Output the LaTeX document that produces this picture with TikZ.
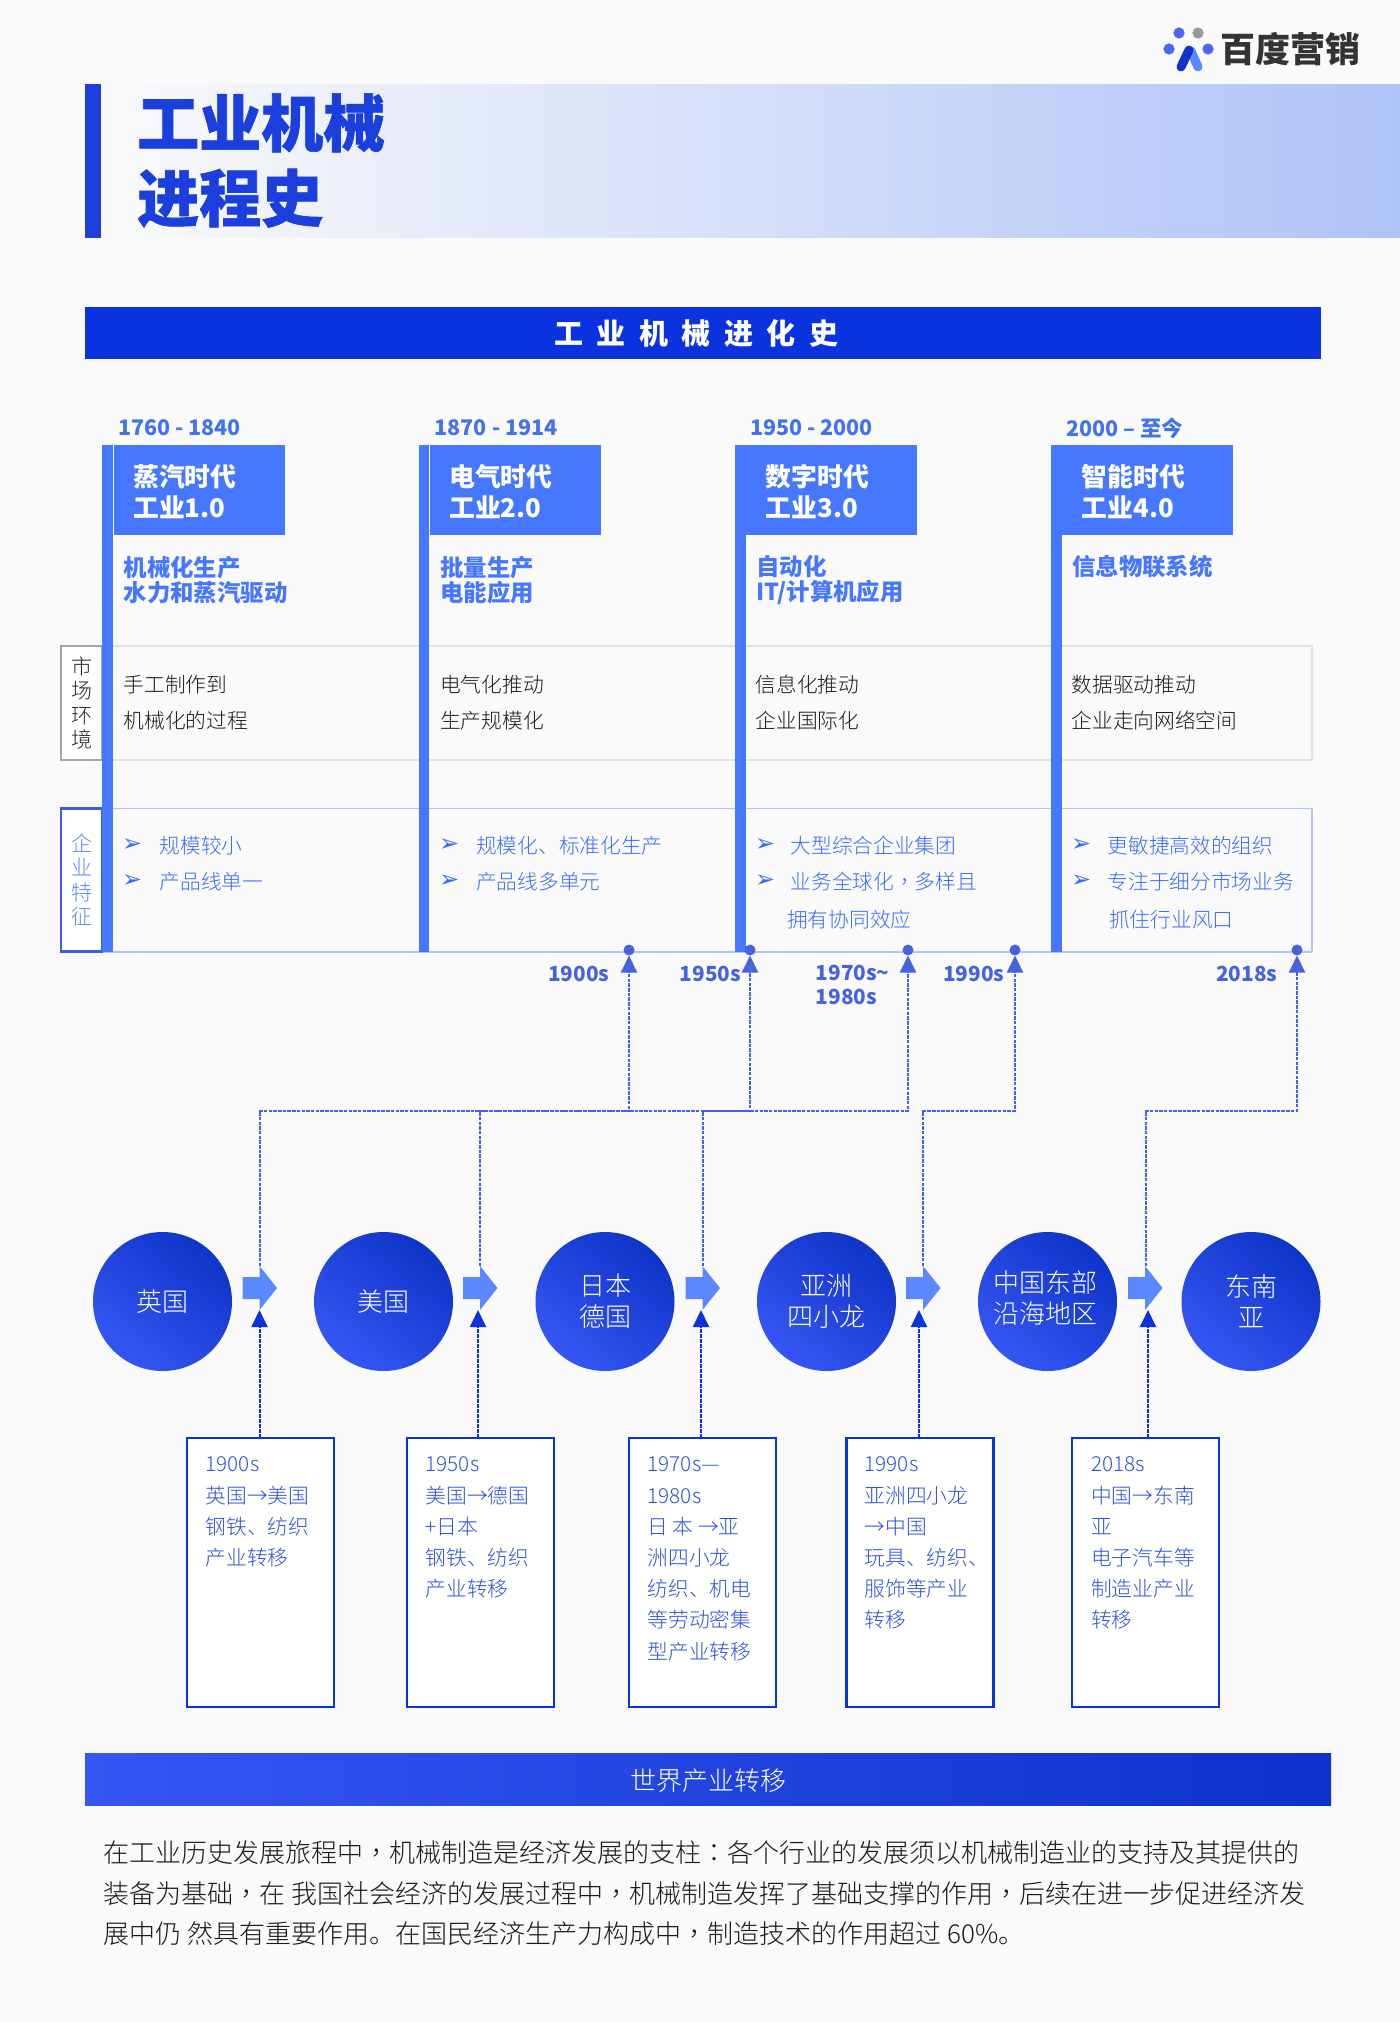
\documentclass[tikz,border=0pt]{standalone}
\usepackage{fontspec}
\usetikzlibrary{arrows.meta,shapes.geometric,calc}
\setmainfont{Noto Sans CJK SC}
\newfontfamily\lightfont{Noto Sans CJK SC Light}
\newfontfamily\tcfont{Noto Sans CJK TC Light}
\newfontfamily\dvfont{DejaVu Sans}
\definecolor{pagebg}{HTML}{FAFAFB}
\definecolor{deepblue}{HTML}{0A33DF}
\definecolor{titleblue}{HTML}{1B3FDC}
\definecolor{midblue}{HTML}{4678FF}
\definecolor{orgblue}{HTML}{3A6BF6}
\definecolor{blockblue}{HTML}{5B88FF}
\definecolor{dateblue}{HTML}{4272EC}
\definecolor{linkblue}{HTML}{4563DF}
\definecolor{boxtext}{HTML}{2F50DC}
\definecolor{softblue}{HTML}{B0C3F7}
\definecolor{softgray}{HTML}{E2E2E2}
\definecolor{HTMLa}{HTML}{3556F3}
\definecolor{HTMLb}{HTML}{0E34C8}
\newcommand{\fl}{\rule{0pt}{0.85em}}
\newcommand{\cma}{{\tcfont ，}}
\newcommand{\cln}{{\tcfont ：}}
\tikzset{
  x=1pt,y=-1pt,
  rectnode/.style={rectangle,inner sep=0pt,outer sep=0pt,anchor=north west},
  bar/.style={rectnode,fill=midblue,minimum width=10.5pt,minimum height=507pt},
  agebox/.style={rectnode,fill=midblue,minimum width=171pt,minimum height=90pt},
  datetext/.style={inner sep=0pt,anchor=west,text=dateblue,font=\fontsize{21.5}{26}\selectfont\bfseries},
  agetext/.style={inner sep=0pt,anchor=west,align=left,text=white,font=\fontsize{25.8}{31}\selectfont\bfseries},
  feattext/.style={inner sep=0pt,anchor=west,align=left,text=midblue,font=\fontsize{23.4}{25.4}\selectfont\bfseries},
  markettext/.style={inner sep=0pt,anchor=west,align=left,text=black!90,font=\fontsize{20.7}{36}\selectfont\lightfont},
  orgtext/.style={inner sep=0pt,anchor=west,text=orgblue,font=\fontsize{20.7}{25}\selectfont\lightfont},
  bullet/.style={inner sep=0pt,anchor=west,text=orgblue,font=\fontsize{24}{26}\selectfont\dvfont},
  sidelabel/.style={rectnode,fill=white,minimum width=41pt,align=center,font=\fontsize{21}{24.2}\selectfont\lightfont},
  dot/.style={circle,fill=linkblue,inner sep=0pt,outer sep=0pt,minimum size=11pt},
  uplink/.style={draw=linkblue,line width=2pt,dash pattern=on 3.5pt off 1.2pt,-{Triangle[width=16pt,length=17pt,fill=linkblue]}},
  yeartext/.style={inner sep=0pt,anchor=west,align=left,text=linkblue,font=\fontsize{20.8}{24}\selectfont\bfseries},
  country/.style={circle,inner sep=0pt,outer sep=0pt,minimum size=139pt,align=center,text=white,shading=axis,bottom color=HTMLa,top color=HTMLb,shading angle=-40,font=\fontsize{26}{31}\selectfont\lightfont},
  blockarrow/.style={fill=blockblue},
  shiftbox/.style={rectnode,fill=white,draw=deepblue,line width=2.4pt,minimum width=147pt,minimum height=269pt},
  shifttext/.style={inner sep=0pt,anchor=north west,align=left,text=boxtext,font=\fontsize{20.7}{31.2}\selectfont\lightfont},
  downlink/.style={draw=deepblue,line width=2pt,dash pattern=on 4pt off 1pt,-{Triangle[width=16pt,length=17pt,fill=deepblue]}},
  paratext/.style={inner sep=0pt,anchor=west,align=left,text=black!90,font=\fontsize{26}{40.3}\selectfont\lightfont},
}
\begin{document}
\begin{tikzpicture}
\useasboundingbox (0,0) rectangle (1400,2022);
\fill[pagebg] (0,0) rectangle (1400,2022);

% logo
\fill[HTMLa!90!white] (1179,33) circle (5.6);
\fill[black!40] (1198,33) circle (5.6);
\fill[HTMLa!90!white] (1169,49) circle (5.6);
\fill[HTMLa!90!white] (1208,49) circle (5.6);
\draw[blockblue,line width=9pt,line cap=round] (1191,51) -- (1198,67);
\draw[HTMLb,line width=9pt,line cap=round] (1181,67) -- (1189,50);
\node[inner sep=0pt,anchor=west,text=black!80,font=\fontsize{35}{36}\selectfont\bfseries] (logotext) at (1220,49) {百度营销};

% title
\node[rectnode,minimum width=1299pt,minimum height=153pt,left color=pagebg,right color=softblue,shading=axis] (titleband) at (101,84) {};
\node[rectnode,fill=titleblue,minimum width=16pt,minimum height=154pt] (titlebar) at (85,84) {};
\node[inner sep=0pt,anchor=west,align=left,text=titleblue,font=\fontsize{62}{75}\selectfont\bfseries\addfontfeature{FakeBold=1}] (title) at (137,160.5) {工业机械\\进程史};

% header
\node[rectnode,fill=deepblue,minimum width=1236pt,minimum height=52pt] (header) at (85,307) {};
\node[inner sep=0pt,text=white,font=\fontsize{29}{32}\selectfont\bfseries] (headertext) at (696.5,333) {\spaceskip=13.5pt\relax 工 业 机 械 进 化 史};

% bands
\node[rectnode,fill=pagebg,draw=softgray,line width=1.2pt,minimum width=1210pt,minimum height=114pt] (marketband) at (102,646) {};
\node[rectnode,fill=pagebg,draw=softblue,line width=1.2pt,minimum width=1210pt,minimum height=143pt] (orgband) at (102,808.5) {};
\draw[softblue,line width=2pt] (orgband.south west) -- (orgband.south east);
\node[sidelabel,draw=black!35,line width=2pt,minimum height=114pt,text=black!85] (marketlabel) at (61,646) {市\\场\\环\\境};
\node[sidelabel,draw=titleblue!85!white,line width=2.4pt,minimum height=143pt,text=blockblue] (orglabel) at (61,808.5) {企\\业\\特\\征};

% columns
\node[bar] (bar1) at (102,445) {};
\node[bar] (bar2) at (418.5,445) {};
\node[bar] (bar3) at (735,445) {};
\node[bar] (bar4) at (1051,445) {};
\node[agebox] (age1) at (114,445) {};
\node[agebox] (age2) at (430,445) {};
\node[agebox] (age3) at (746,445) {};
\node[agebox] (age4) at (1062,445) {};

\node[datetext] (date1) at (118,428) {1760 - 1840};
\node[datetext] (date2) at (434.5,428) {1870 - 1914};
\node[datetext] (date3) at (750,428) {1950 - 2000};
\node[datetext] (date4) at (1066,428) {2000 – 至今};

\node[agetext] (agetext1) at (133,491.5) {蒸汽时代\\工业1.0};
\node[agetext] (agetext2) at (449,491.5) {电气时代\\工业2.0};
\node[agetext] (agetext3) at (765.5,491.5) {数字时代\\工业3.0};
\node[agetext] (agetext4) at (1081.5,491.5) {智能时代\\工业4.0};

\node[feattext] (feat1) at (123.5,580) {机械化生产\\水力和蒸汽驱动};
\node[feattext] (feat2) at (440,580) {批量生产\\电能应用};
\node[feattext] (feat3) at (756,580) {自动化\\IT/计算机应用};
\node[feattext] (feat4) at (1072,567) {信息物联系统};

\node[markettext] (market1) at (123.5,703) {手工制作到\\机械化的过程};
\node[markettext] (market2) at (440,703) {电气化推动\\生产规模化};
\node[markettext] (market3) at (755.5,703) {信息化推动\\企业国际化};
\node[markettext] (market4) at (1071.5,703) {数据驱动推动\\企业走向网络空间};

\node[bullet] (b11) at (122,845.5) {➢};
\node[bullet] (b12) at (122,881.5) {➢};
\node[bullet] (b21) at (439,845.5) {➢};
\node[bullet] (b22) at (439,881.5) {➢};
\node[bullet] (b31) at (755,845.5) {➢};
\node[bullet] (b32) at (755,881.5) {➢};
\node[bullet] (b41) at (1071,845.5) {➢};
\node[bullet] (b42) at (1071,881.5) {➢};

\node[orgtext] (org11) at (159.5,845.5) {规模较小};
\node[orgtext] (org12) at (159.5,881.5) {产品线单一};
\node[orgtext] (org21) at (476,845.5) {规模化、标准化生产};
\node[orgtext] (org22) at (476,881.5) {产品线多单元};
\node[orgtext] (org31) at (790.5,845.5) {大型综合企业集团};
\node[orgtext] (org32) at (790.5,881.5) {业务全球化\cma 多样且};
\node[orgtext] (org33) at (787,920) {拥有协同效应};
\node[orgtext] (org41) at (1107.5,845.5) {更敏捷高效的组织};
\node[orgtext] (org42) at (1107.5,881.5) {专注于细分市场业务};
\node[orgtext] (org43) at (1109,920) {抓住行业风口};

% time markers
\node[dot] (d1) at (629,950) {};
\node[dot] (d2) at (750,950) {};
\node[dot] (d3) at (908,950) {};
\node[dot] (d4) at (1015,950) {};
\node[dot] (d5) at (1297,950) {};
\node[yeartext] (y1) at (548,973.5) {1900s};
\node[yeartext] (y2) at (679.5,973.5) {1950s};
\node[yeartext] (y3) at (815.5,985) {1970s\char"7E\\1980s};
\node[yeartext] (y4) at (943,973.5) {1990s};
\node[yeartext] (y5) at (1216,973.5) {2018s};

% block arrows
\foreach \n/\xx in {1/242.5,2/463,3/685.5,4/906,5/1128}{
  \fill[blockarrow] (\xx,1277) -- ++(17,0) -- ++(0,-11) -- ++(17.5,22) -- ++(-17.5,22) -- ++(0,-11) -- ++(-17,0) -- cycle;
}
\coordinate (head1) at (259.6,1266);
\coordinate (head2) at (480,1266);
\coordinate (head3) at (703,1266);
\coordinate (head4) at (923,1266);
\coordinate (head5) at (1145.5,1266);
\coordinate (tip1) at (259.5,1310);
\coordinate (tip2) at (478,1310);
\coordinate (tip3) at (701,1310);
\coordinate (tip4) at (919,1310);
\coordinate (tip5) at (1148,1310);
\coordinate (h1) at (259.6,1110.5);
\coordinate (h2) at (480,1110.5);
\coordinate (h3) at (703,1111);
\coordinate (h4) at (923,1110.5);
\coordinate (h5) at (1145.5,1110.5);

% circles
\node[country] (c1) at (162.5,1301.5) {英国};
\node[country] (c2) at (383.5,1301.5) {美国};
\node[country] (c3) at (605,1301.5) {日本\\德国};
\node[country] (c4) at (826.5,1301.5) {亚洲\\四小龙};
\node[country] (c5) at (1047.5,1301.5) {};
\node[inner sep=0pt,align=center,text=white,font=\fontsize{26}{31}\selectfont\lightfont] (c5text) at (1045.5,1298.5) {中国东部\\沿海地区};
\node[country] (c6) at (1251,1301.5) {东南\\亚};

% shift boxes
\node[shiftbox] (s1) at (187,1438) {};
\node[shiftbox] (s2) at (407,1438) {};
\node[shiftbox] (s3) at (629,1438) {};
\node[shiftbox] (s4) at (846.5,1438) {};
\node[shiftbox] (s5) at (1072,1438) {};
\node[shifttext] (st1) at (205.5,1454) {\fl 1900s\\英国→美国\\钢铁、纺织\\产业转移};
\node[shifttext] (st2) at (425.5,1454) {\fl 1950s\\美国→德国\\+日本\\钢铁、纺织\\产业转移};
\node[shifttext] (st3) at (647.5,1454) {\fl 1970s—\\1980s\\日 本 →亚\\洲四小龙\\纺织、机电\\等劳动密集\\型产业转移};
\node[shifttext] (st4) at (864.5,1454) {\fl 1990s\\亚洲四小龙\\→中国\\玩具、纺织、\\服饰等产业\\转移};
\node[shifttext] (st5) at (1091,1454) {\fl 2018s\\中国→东南\\亚\\电子汽车等\\制造业产业\\转移};

% connectors
\draw[uplink] (head1) -- (h1) -| (d1.south);
\draw[uplink] (head2) -- (h2) -| (d2.south);
\draw[uplink] (head3) -- (h3) -| (d3.south);
\draw[uplink] (head4) -- (h4) -| (d4.south);
\draw[uplink] (head5) -- (h5) -| (d5.south);
\draw[downlink] (tip1 |- s1.north) -- (tip1);
\draw[downlink] (tip2 |- s2.north) -- (tip2);
\draw[downlink] (tip3 |- s3.north) -- (tip3);
\draw[downlink] (tip4 |- s4.north) -- (tip4);
\draw[downlink] (tip5 |- s5.north) -- (tip5);

% footer
\node[rectnode,minimum width=1246pt,minimum height=52pt,shading=axis,left color=HTMLa,right color=HTMLb!95!blue] (footer) at (85,1753) {};
\node[inner sep=0pt,text=white,font=\fontsize{26}{30}\selectfont\lightfont] (footertext) at (708.5,1781) {世界产业转移};
\node[paratext] (para) at (103.5,1893.2) {在工业历史发展旅程中\cma 机械制造是经济发展的支柱\cln 各个行业的发展须以机械制造业的支持及其提供的\\装备为基础\cma 在 我国社会经济的发展过程中\cma 机械制造发挥了基础支撑的作用\cma 后续在进一步促进经济发\\展中仍 然具有重要作用。在国民经济生产力构成中\cma 制造技术的作用超过 60\%。};
\end{tikzpicture}
\end{document}
